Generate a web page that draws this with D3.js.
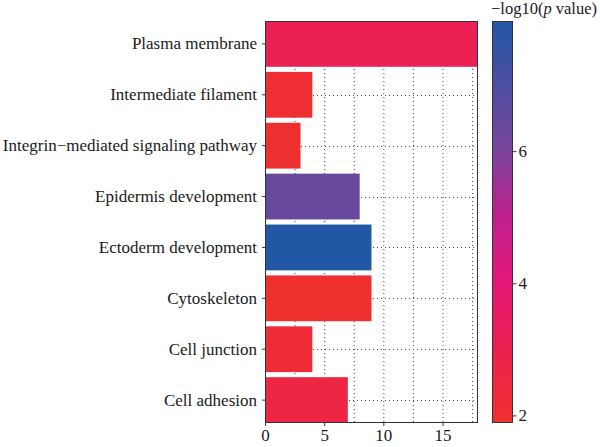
<!DOCTYPE html>
<html>
<head>
<meta charset="utf-8">
<script src="https://cdn.jsdelivr.net/npm/d3@7"></script>
<style>
  body { margin: 0; background: #fff; }
  text { font-family: "Liberation Serif", "DejaVu Serif", serif; fill: #1a1a1a; }
</style>
</head>
<body>
<script>
const width = 600;
const height = 447;
const marginLeft = 265;
const marginTop = 21;
const panelRight = 478;
const panelBottom = 423;

// data
const terms = [
  "Plasma membrane",
  "Intermediate filament",
  "Integrin\u2212mediated signaling pathway",
  "Epidermis development",
  "Ectoderm development",
  "Cytoskeleton",
  "Cell junction",
  "Cell adhesion"
];
const counts = [18, 4, 3, 8, 9, 9, 4, 7];
const logP = [3.1, 2.0, 1.95, 6.4, 7.97, 1.885, 2.2, 2.6];
const xTicks = [0, 5, 10, 15];
const xGrid = [2.5, 5, 7.5, 10, 12.5, 15, 17.5];
const cTicks = [2, 4, 6];

const colorStops = [1.885, 3, 4, 5, 6, 7.97];
const colorRange = ["#ee302e", "#ec2150", "#e51877", "#c01f8f", "#7a449b", "#2257a6"];

const svg = d3.select("body").append("svg")
  .attr("width", width)
  .attr("height", height);

const x = d3.scaleLinear([0, 18], [marginLeft, panelRight]);
const y = d3.scaleBand(terms, [marginTop, panelBottom]).paddingInner(0.1).paddingOuter(0);
const color = d3.scaleLinear(colorStops, colorRange).interpolate(d3.interpolateRgb);

// grid
svg.append("g")
  .attr("stroke", "#444")
  .attr("stroke-width", 1)
  .attr("stroke-dasharray", "1,3")
  .selectAll("line.v")
  .data(xGrid)
  .join("line")
  .attr("x1", d => x(d) + 0.5).attr("x2", d => x(d) + 0.5)
  .attr("y1", marginTop).attr("y2", panelBottom);

svg.append("g")
  .attr("stroke", "#444")
  .attr("stroke-width", 1)
  .attr("stroke-dasharray", "1,3")
  .selectAll("line")
  .data(terms)
  .join("line")
  .attr("x1", marginLeft).attr("x2", panelRight)
  .attr("y1", d => Math.round(y(d) + y.bandwidth() / 2) + 0.5)
  .attr("y2", d => Math.round(y(d) + y.bandwidth() / 2) + 0.5);

// bars
svg.append("g")
  .selectAll("rect")
  .data(d3.range(terms.length))
  .join("rect")
  .attr("x", x(0))
  .attr("y", i => y(terms[i]))
  .attr("width", i => x(counts[i]) - x(0))
  .attr("height", y.bandwidth())
  .attr("fill", i => color(logP[i]));

// panel border
svg.append("rect")
  .attr("x", marginLeft + 0.5).attr("y", marginTop + 0.5)
  .attr("width", panelRight - marginLeft - 1).attr("height", panelBottom - marginTop - 1)
  .attr("fill", "none")
  .attr("stroke", "#333")
  .attr("stroke-width", 1);

// axes
const fs = "17px";
const yAxis = svg.append("g")
  .attr("transform", `translate(${marginLeft},0)`)
  .call(d3.axisLeft(y).tickSize(3).tickPadding(5));
yAxis.select(".domain").remove();
yAxis.selectAll("line").attr("stroke", "#333");
yAxis.selectAll("text").attr("font-size", null).style("font-size", fs).attr("fill", "#1a1a1a");
yAxis.attr("font-size", null);

const xAxis = svg.append("g")
  .attr("transform", `translate(0,${panelBottom})`)
  .call(d3.axisBottom(x).tickValues(xTicks).tickSize(3).tickPadding(3));
xAxis.select(".domain").remove();
xAxis.selectAll("line").attr("stroke", "#333");
xAxis.attr("font-size", null);
xAxis.selectAll("text").style("font-size", fs).attr("fill", "#1a1a1a");

// colour bar
const cbX = 492, cbW = 20;
const c = d3.scaleLinear([1.885, 7.97], [panelBottom, marginTop]);
const defs = svg.append("defs");
const grad = defs.append("linearGradient")
  .attr("id", "cbar")
  .attr("x1", 0).attr("y1", 1).attr("x2", 0).attr("y2", 0);
grad.selectAll("stop")
  .data(colorStops)
  .join("stop")
  .attr("offset", d => (d - 1.885) / (7.97 - 1.885))
  .attr("stop-color", d => color(d));

svg.append("rect")
  .attr("x", cbX + 0.5).attr("y", marginTop + 0.5)
  .attr("width", cbW).attr("height", panelBottom - marginTop - 1)
  .attr("fill", "url(#cbar)")
  .attr("stroke", "#333")
  .attr("stroke-width", 1);

const cAxis = svg.append("g")
  .attr("transform", `translate(${cbX + cbW + 0.5},0)`)
  .call(d3.axisRight(c).tickValues(cTicks).tickFormat(d3.format("d")).tickSize(4).tickPadding(2));
cAxis.select(".domain").remove();
cAxis.selectAll("line").attr("stroke", "#333");
cAxis.attr("font-size", null);
cAxis.selectAll("text").style("font-size", fs).attr("fill", "#1a1a1a");

const title = svg.append("text")
  .attr("x", 491)
  .attr("y", 14)
  .style("font-size", "16.5px");
title.append("tspan").text("\u2212log10(");
title.append("tspan").style("font-style", "italic").text("p");
title.append("tspan").text(" value)");
</script>
</body>
</html>
